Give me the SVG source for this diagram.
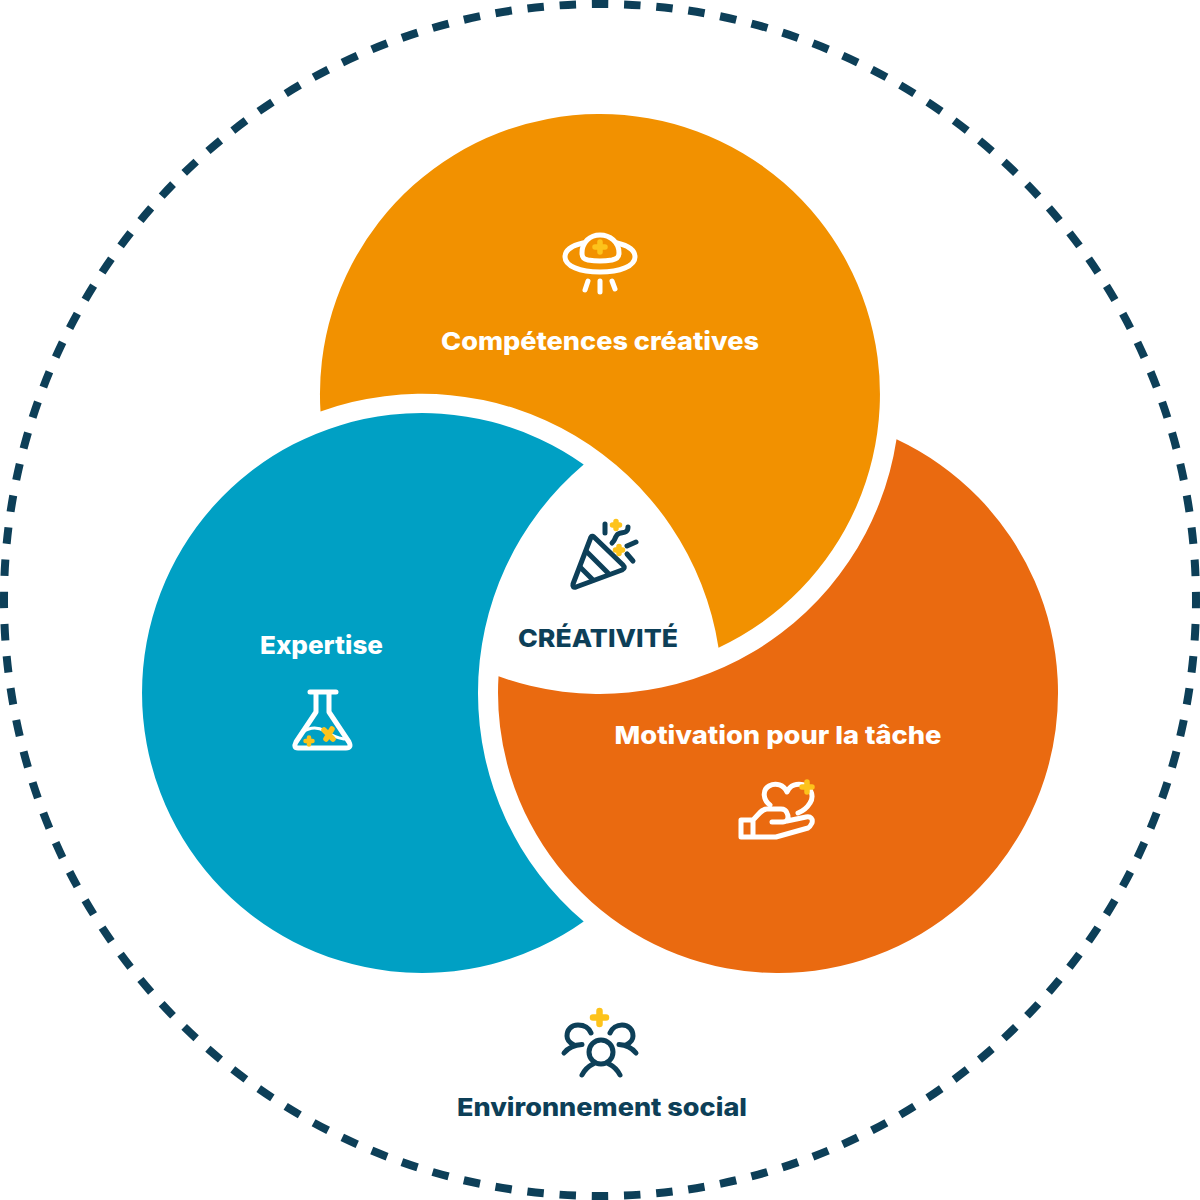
<svg xmlns="http://www.w3.org/2000/svg" width="1200" height="1200" viewBox="0 0 1200 1200">
<style>
.lbl{font-family:"Inter","Liberation Sans",sans-serif;font-weight:800;font-size:25px;text-anchor:middle}
.w{fill:#fff}.n{fill:#0d3f58}
.iw,.in,.iy{fill:none;stroke-linecap:round;stroke-linejoin:round}
.iw{stroke:#fff;stroke-width:5}.in{stroke:#0d3f58;stroke-width:5}.iy{stroke:#fdc31b;stroke-width:5.500;stroke-linecap:round}
</style>
<rect width="1200" height="1200" fill="#fff"/>
<g id="connectors"></g>
<g id="environnement">
<circle cx="600" cy="600" r="596" fill="none" stroke="#0d3f58" stroke-width="8" stroke-dasharray="16.5 15.78" stroke-dashoffset="8.25"/>
<path class="iy" style="stroke-width:6.500" d="M593,1017.500H606M599.500,1011V1024"/>
<circle class="in" cx="601" cy="1052" r="12"/>
<path class="in" d="M582,1075C585,1069 589,1066 593,1064M620,1075C617,1069 613,1066 609,1064"/>
<path class="in" d="M591,1033C589,1028 584,1025 578,1025C571,1025 567,1030 567,1036C567,1040 570,1043 574,1045M564,1053C568,1048 573,1045 582,1044.500"/>
<path class="in" d="M610,1033C612,1028 617,1025 622,1025C629,1025 633,1030 633,1036C633,1040 630,1043 626,1045M636,1053C632,1048 627,1045 619,1044.500"/>
<text class="lbl n" x="602" y="1116" textLength="290" lengthAdjust="spacingAndGlyphs">Environnement social</text>
</g>
<g id="competences">
<path fill="#f29100" d="M320.500,411.500A280,280 0 1 1 718.520,647.650A300,300 0 0 0 320.500,411.500Z"/>
<path class="iw" d="M583,243C570,246 565,251 565,257C565,266 580,272 600,272C620,272 635,266 635,257C635,251 630,246 617,243"/>
<path class="iw" d="M582,253C582,242 590,235 600,235C610,235 619,242 619,253C619,258 616,259 612,260Q600,262 588,260C584,259 582,258 582,253Z"/>
<path class="iw" d="M588,281L585,290M600,281V292M612,281L615,289"/>
<path class="iy" d="M595,247H605M600,242V252"/>
<text class="lbl w" x="600" y="350" textLength="318" lengthAdjust="spacingAndGlyphs">Compétences créatives</text>
</g>
<g id="expertise">
<path fill="#00a0c4" d="M583.710,464.400A280,280 0 1 0 583.710,921.600A300,300 0 0 1 583.710,464.400Z"/>
<path class="iw" d="M310,692H336M316,692V712L296,742Q293,748 298,748H346Q352,748 349,742L329,712V692"/>
<path class="iw" style="stroke-width:3" d="M303,732C310,727 318,727 325,731C332,736 338,738 344,739"/>
<path class="iy" style="stroke-width:4.500" d="M305.500,741H312.500M309,737.500V744.500"/>
<path class="iy" d="M324,730L333,739M332,729L326,739"/>
<text class="lbl w" x="321.500" y="654" textLength="123" lengthAdjust="spacingAndGlyphs">Expertise</text>
</g>
<g id="motivation">
<path fill="#ea6a10" d="M896.520,439.350A280,280 0 1 1 498.520,676.290A300,300 0 0 0 896.520,439.350Z"/>
<path class="iw" d="M770,805C763,800 762,790 769,786C776,782 784,785 787,792C790,785 797,783 804,785C812,788 814,797 810,803C807,808 803,811 798,813"/>
<path class="iw" d="M772,822H783C788,822 789,817 787,813C786,810 784,809 781,809H767C762,809 760,813 753,820M741,820H753V837H741ZM787,821L806,817C811,816 813,819 812,823C811,825 810,827 808,828L776,837H753"/>
<path class="iy" d="M802,787H812M807,782V792"/>
<text class="lbl w" x="778" y="744" textLength="327" lengthAdjust="spacingAndGlyphs">Motivation pour la tâche</text>
</g>
<g id="creativite">
<path class="in" d="M591,537L573,584Q572,588 576,587L622,570Q626,568 623,565L595,538Q592,535 591,537Z"/>
<path class="in" d="M587,552L608,573M580,567L593,580M605,524V533M628,527C628,535 620,531 617,535C614,539 616,539 612,543M627,546L636,542M627,554L633,561"/>
<path class="iy" d="M612.500,525H619.500M616,521.500V528.500M615.500,550H622.500M619,546.500V553.500"/>
<text class="lbl n" x="598" y="647" textLength="160" lengthAdjust="spacingAndGlyphs">CRÉATIVITÉ</text>
</g>
</svg>
